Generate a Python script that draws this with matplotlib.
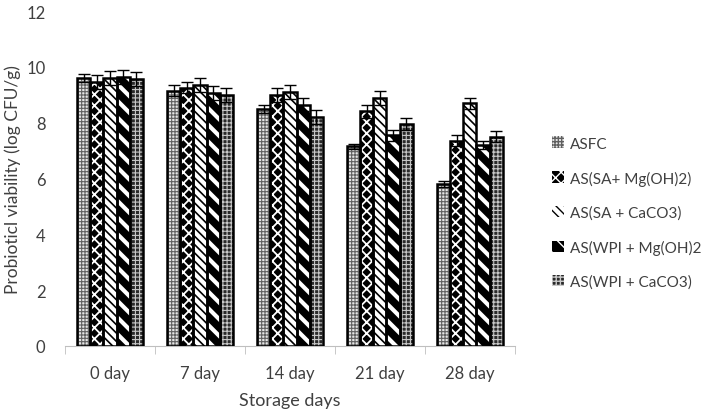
import numpy as np
import matplotlib as mpl
import matplotlib.pyplot as plt
from matplotlib.patches import Patch

plt.rcParams['font.family'] = ['Lato', 'DejaVu Sans']

# data
days = ['0 day', '7 day', '14 day', '21 day', '28 day']
series = ['ASFC', 'AS(SA+ Mg(OH)2)', 'AS(SA + CaCO3)', 'AS(WPI + Mg(OH)2', 'AS(WPI + CaCO3)']
asfc = [9.6, 9.15, 8.5, 7.15, 5.8]
sa_mg = [9.45, 9.25, 9.0, 8.4, 7.35]
sa_ca = [9.6, 9.35, 9.1, 8.9, 8.7]
wpi_mg = [9.65, 9.05, 8.65, 7.55, 7.2]
wpi_ca = [9.55, 9.0, 8.2, 7.95, 7.5]
err_asfc = [0.15, 0.2, 0.15, 0.1, 0.1]
err_sa_mg = [0.25, 0.2, 0.25, 0.25, 0.2]
err_sa_ca = [0.25, 0.25, 0.25, 0.25, 0.2]
err_wpi_mg = [0.25, 0.25, 0.25, 0.2, 0.15]
err_wpi_ca = [0.25, 0.25, 0.25, 0.2, 0.2]

vals = [asfc, sa_mg, sa_ca, wpi_mg, wpi_ca]
errs = [err_asfc, err_sa_mg, err_sa_ca, err_wpi_mg, err_wpi_ca]

# fill colour, hatch colour, hatch pattern, hatch width for each series
styles = [
    ('#e6e6e6', '#606060', '+++++', 0.8),
    ('black', 'white', 'xxx', 1.3),
    ('white', 'black', '\\\\\\\\', 1.2),
    ('black', 'white', '\\\\', 3.0),
    ('#2a2a2a', '#c8c8c8', '++++', 0.8),
]

fig = plt.figure(figsize=(7.09, 4.14), dpi=100)
ax = fig.add_axes([0.0917, 0.162, 0.6345, 0.809])

x = np.arange(len(days))
w = 0.146
for k in range(5):
    pos = x + (k - 2) * w
    fc, hc, h, hw = styles[k]
    with mpl.rc_context({'hatch.linewidth': hw}):
        ax.bar(pos, vals[k], w, color=fc, edgecolor=hc, hatch=h, linewidth=0, zorder=2)
    ax.bar(pos, vals[k], w, fill=False, edgecolor='black', linewidth=1.8, zorder=3)
    ax.errorbar(pos, vals[k], yerr=errs[k], fmt='none', ecolor='black',
                elinewidth=1, capsize=4, capthick=1, zorder=4)

ax.set_xlim(-0.5, 4.5)
ax.set_ylim(0, 12)
ax.set_yticks(np.arange(0, 13, 2))
ax.set_xticks(x)
ax.set_xticklabels(days)
ax.set_xticks(np.arange(-0.5, 5, 1), minor=True)
ax.tick_params(axis='x', which='major', length=0, pad=14, labelsize=12, colors='#404040')
ax.tick_params(axis='x', which='minor', length=6, color='#bfbfbf')
ax.tick_params(axis='y', length=0, pad=14, labelsize=12, colors='#404040')
for s in ['top', 'right', 'left']:
    ax.spines[s].set_visible(False)
ax.spines['bottom'].set_color('#bfbfbf')

ax.set_xlabel('Storage days', fontsize=13, color='#404040', labelpad=8)
ax.set_ylabel('Probioticl viability (log CFU/g)', fontsize=12.5, color='#404040', labelpad=4)

handles = []
for k in range(5):
    fc, hc, h, hw = styles[k]
    with mpl.rc_context({'hatch.linewidth': hw}):
        handles.append(Patch(facecolor=fc, edgecolor=hc, hatch=h, linewidth=0))
leg = fig.legend(handles, series, loc='upper left', bbox_to_anchor=(0.778, 0.668),
                 frameon=False, fontsize=11, handlelength=0.8, handleheight=0.8,
                 handletextpad=0.4, labelspacing=1.3, labelcolor='#404040',
                 borderaxespad=0, borderpad=0)

fig.savefig('out.png', dpi=100)
